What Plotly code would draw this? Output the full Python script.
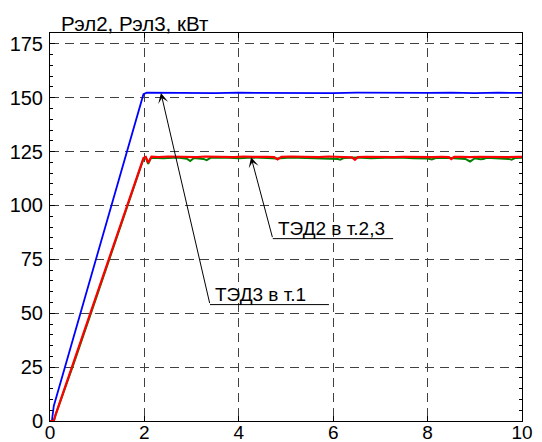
import plotly.graph_objects as go

# Electrical power of traction motors, kW, versus time, s
blue_t = [0, 0.04, 0.08, 0.5, 1.0, 1.5, 1.98, 2.05, 2.5, 3.0, 3.5, 4.0, 4.5,
          5.0, 5.5, 6.0, 6.5, 7.0, 7.5, 8.0, 8.5, 9.0, 9.5, 10.0]
blue_p = [0, 0, 7, 39, 77, 115, 151.6, 152.3, 152.2, 152.4, 152.1, 152.3, 152.2,
          152.4, 152.2, 152.1, 152.3, 152.2, 152.4, 152.2, 152.3, 152.1, 152.3, 152.2]

green_t = [0, 0.08, 0.12, 0.5, 1.0, 1.5, 1.98, 2.03, 2.08, 2.14, 2.4, 2.7, 2.9,
           2.97, 3.05, 3.25, 3.32, 3.4, 3.7, 4.0, 4.3, 4.6, 4.8, 5.1, 5.4, 5.7,
           6.0, 6.1, 6.15, 6.22, 6.5, 6.8, 7.1, 7.4, 7.7, 8.0, 8.09, 8.17, 8.4,
           8.8, 8.9, 9.0, 9.12, 9.18, 9.25, 9.5, 9.72, 9.78, 9.85, 10.0]
green_p = [0, 0, 3, 26.5, 58.5, 90.5, 121.6, 122.1, 119.3, 122.1, 121.9, 122.2, 121.7,
           120.6, 122.0, 121.6, 121.0, 122.1, 122.2, 121.9, 122.2, 122.0, 121.8, 122.2, 122.0, 122.1,
           121.9, 121.5, 121.2, 122.0, 122.2, 121.9, 122.1, 122.2, 121.9, 121.8, 121.3, 122.0, 122.1,
           121.6, 120.4, 121.9, 121.4, 121.5, 122.1, 122.0, 121.6, 121.2, 122.0, 122.1]

red_t = [0, 0.08, 0.12, 0.5, 1.0, 1.5, 1.98, 2.03, 2.08, 2.15, 2.3, 2.5, 2.7,
         2.9, 3.1, 3.3, 3.5, 3.7, 3.9, 4.1, 4.3, 4.6, 4.75, 4.82, 4.9, 5.1,
         5.3, 5.5, 5.7, 5.9, 6.1, 6.3, 6.4, 6.46, 6.52, 6.7, 6.9, 7.1, 7.3,
         7.5, 7.7, 7.9, 8.1, 8.3, 8.45, 8.5, 8.56, 8.7, 8.9, 9.1, 9.3, 9.5,
         9.7, 9.9, 10.0]
red_p = [0, 0, 3, 27.3, 59.3, 91.3, 122.0, 122.5, 119.8, 122.6, 122.4, 122.7, 122.5,
         122.6, 122.4, 122.7, 122.5, 122.6, 122.4, 122.7, 122.5, 122.6, 122.4, 121.4, 122.5, 122.7,
         122.5, 122.6, 122.4, 122.7, 122.5, 122.6, 122.3, 121.2, 122.4, 122.6, 122.5, 122.7, 122.4,
         122.6, 122.5, 122.7, 122.4, 122.6, 122.4, 121.5, 122.5, 122.6, 122.4, 122.6, 122.5, 122.7,
         122.4, 122.6, 122.5]

x_ticks = [0, 2, 4, 6, 8, 10]
y_ticks = [0, 25, 50, 75, 100, 125, 150, 175]

title_text = "Рэл2, Рэл3, кВт"
label_ted3 = "ТЭД3 в т.1"
label_ted2 = "ТЭД2 в т.2,3"

FONT = "Arial, Liberation Sans, sans-serif"

fig = go.Figure()
fig.add_trace(go.Scatter(x=blue_t, y=blue_p, mode="lines",
                         line=dict(color="#0000ff", width=1.8)))
fig.add_trace(go.Scatter(x=green_t, y=green_p, mode="lines",
                         line=dict(color="#008000", width=2)))
fig.add_trace(go.Scatter(x=red_t, y=red_p, mode="lines",
                         line=dict(color="#ff0000", width=2.2)))

# leader lines with arrows and underlined captions
callouts = [
    # head (x, y), tail (x, y), underline end x, caption
    (2.35, 152.2, 3.39, 54.0, 5.91, label_ted3),
    (4.26, 122.4, 4.72, 84.6, 7.27, label_ted2),
]
for hx, hy, tx, ty, ux, txt in callouts:
    fig.add_annotation(x=hx, y=hy, ax=tx, ay=ty, xref="x", yref="y",
                       axref="x", ayref="y", text="", showarrow=True,
                       arrowhead=3, arrowsize=1.7, arrowwidth=1,
                       arrowcolor="black")
    fig.add_shape(type="line", x0=tx, x1=ux, y0=ty, y1=ty, xref="x", yref="y",
                  line=dict(color="black", width=1))
    fig.add_annotation(x=tx + 0.07, y=ty, xref="x", yref="y", text=txt,
                       showarrow=False, xanchor="left", yanchor="bottom",
                       yshift=-2,
                       font=dict(family=FONT, size=19, color="black"))

fig.add_annotation(x=9 / 472, y=1 + 10 / 388, xref="paper", yref="paper",
                   text=title_text, showarrow=False, xanchor="left",
                   yanchor="middle",
                   font=dict(family=FONT, size=20.5, color="black"))

axis_common = dict(
    showline=True, linecolor="black", linewidth=1, mirror="ticks",
    ticks="inside", ticklen=5, tickcolor="black", tickwidth=1,
    showgrid=True, gridcolor="#404040", gridwidth=1, griddash="9px,6px",
    zeroline=False, automargin=False,
)

fig.update_xaxes(range=[0, 10], tickvals=x_ticks, ticklabelstandoff=-6,
                 tickfont=dict(family=FONT, size=19, color="black"), **axis_common)
fig.update_yaxes(range=[0, 180], tickvals=y_ticks,
                 minor=dict(dtick=5, ticks="inside", ticklen=3, tickcolor="black",
                            showgrid=False),
                 ticklabelstandoff=2,
                 tickfont=dict(family=FONT, size=20, color="black"), **axis_common)

fig.update_layout(
    width=542, height=442,
    margin=dict(l=50, r=20, t=33, b=21),
    paper_bgcolor="white", plot_bgcolor="white",
    showlegend=False,
)

fig.write_html("out.html")
